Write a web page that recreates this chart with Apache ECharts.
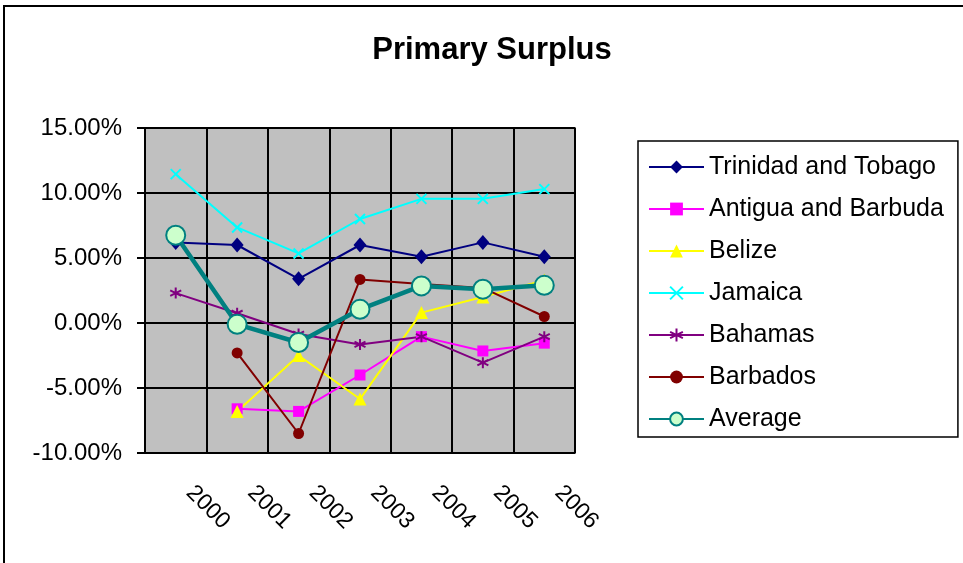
<!DOCTYPE html>
<html>
<head>
<meta charset="utf-8">
<title>Primary Surplus</title>
<script src="https://cdn.jsdelivr.net/npm/echarts@6/dist/echarts.min.js"></script>
<style>
    html, body {margin: 0; padding: 0; background: #fff;}
    #main {width: 963px; height: 563px;}
</style>
</head>
<body>
<div id="main"></div>
<script>
// data (percent)
var years = ['2000', '2001', '2002', '2003', '2004', '2005', '2006'];
var trinidad = [6.2, 6.0, 3.4, 6.0, 5.1, 6.2, 5.1];
var antigua = ['-', -6.6, -6.8, -4.0, -1.05, -2.15, -1.55];
var belize = ['-', -6.8, -2.5, -5.85, 0.8, 2.0, 3.3];
var jamaica = [11.45, 7.35, 5.35, 8.0, 9.55, 9.55, 10.3];
var bahamas = [2.3, 0.75, -0.85, -1.65, -1.05, -3.05, -1.05];
var barbados = ['-', -2.3, -8.5, 3.35, 3.0, 2.7, 0.5];
var average = [6.75, -0.1, -1.5, 1.05, 2.85, 2.6, 2.9];
var yTicks = {min: -10, max: 15, step: 5};

var FONT = 'Liberation Sans';
var xMark = 'path://M0,0L10,10M10,0L0,10';
var starMark = 'path://M5,0L5,10M0.7,2.5L9.3,7.5M9.3,2.5L0.7,7.5';

function lineSeries(name, data, color, symbol, size, strokeOnly) {
    return {
        name: name,
        type: 'line',
        data: data,
        symbol: symbol,
        symbolSize: size,
        showAllSymbol: true,
        connectNulls: false,
        lineStyle: {color: color, width: 2},
        itemStyle: strokeOnly ? {color: color, borderColor: color, borderWidth: 2} : {color: color},
        emphasis: {disabled: true},
        animation: false
    };
}

var myChart = echarts.init(document.getElementById('main'));
var option = {
    backgroundColor: '#fff',
    animation: false,
    title: {
        text: 'Primary Surplus',
        top: 30,
        left: 487,
        textAlign: 'center',
        textStyle: {fontFamily: FONT, fontSize: 31, fontWeight: 'bold', color: '#000'}
    },
    // outer frame of the chart
    graphic: [{
        type: 'rect',
        shape: {x: 4, y: 6, width: 1000, height: 1000},
        style: {fill: 'none', stroke: '#000', lineWidth: 2},
        silent: true
    }],
    legend: {
        orient: 'vertical',
        left: 638,
        top: 141,
        padding: [12, 14, 4, 10],
        itemGap: 14,
        itemWidth: 55,
        itemHeight: 16,
        borderColor: '#000',
        borderWidth: 1.5,
        backgroundColor: '#fff',
        textStyle: {fontFamily: FONT, fontSize: 25, color: '#000', lineHeight: 28},
        data: ['Trinidad and Tobago', 'Antigua and Barbuda', 'Belize', 'Jamaica', 'Bahamas', 'Barbados', 'Average']
    },
    grid: {
        left: 145,
        top: 128,
        right: 388,
        bottom: 110,
        show: true,
        backgroundColor: '#C0C0C0',
        borderColor: '#808080',
        borderWidth: 2
    },
    xAxis: {
        type: 'category',
        data: years,
        boundaryGap: true,
        axisLine: {lineStyle: {color: '#000', width: 2}},
        axisTick: {show: true, length: 8, lineStyle: {color: '#000', width: 2}},
        splitLine: {show: true, lineStyle: {color: '#000', width: 2}},
        axisLabel: {
            rotate: -45,
            margin: 22,
            padding: [0, 0, 0, 20],
            interval: 0,
            fontFamily: FONT,
            fontSize: 23,
            color: '#000'
        }
    },
    yAxis: {
        type: 'value',
        min: yTicks.min,
        max: yTicks.max,
        interval: yTicks.step,
        axisLine: {show: true, lineStyle: {color: '#000', width: 2}},
        axisTick: {show: true, length: 8, lineStyle: {color: '#000', width: 2}},
        splitLine: {show: true, lineStyle: {color: '#000', width: 2}},
        axisLabel: {
            margin: 23,
            fontFamily: FONT,
            fontSize: 24,
            color: '#000',
            formatter: function (v) {
                return v.toFixed(2) + '%';
            }
        }
    },
    series: [
        lineSeries('Trinidad and Tobago', trinidad, '#000080', 'diamond', [13, 15], false),
        lineSeries('Antigua and Barbuda', antigua, '#FF00FF', 'rect', 11, false),
        lineSeries('Belize', belize, '#FFFF00', 'triangle', 13, false),
        lineSeries('Jamaica', jamaica, '#00FFFF', xMark, 10, true),
        lineSeries('Bahamas', bahamas, '#800080', starMark, 11, true),
        lineSeries('Barbados', barbados, '#800000', 'circle', 11, false),
        {
            name: 'Average',
            type: 'line',
            data: average,
            symbol: 'circle',
            symbolSize: 19,
            showAllSymbol: true,
            lineStyle: {color: '#008080', width: 4.5},
            itemStyle: {color: '#CCFFCC', borderColor: '#008080', borderWidth: 2},
            emphasis: {disabled: true},
            animation: false
        }
    ]
};
myChart.setOption(option);
</script>
</body>
</html>
